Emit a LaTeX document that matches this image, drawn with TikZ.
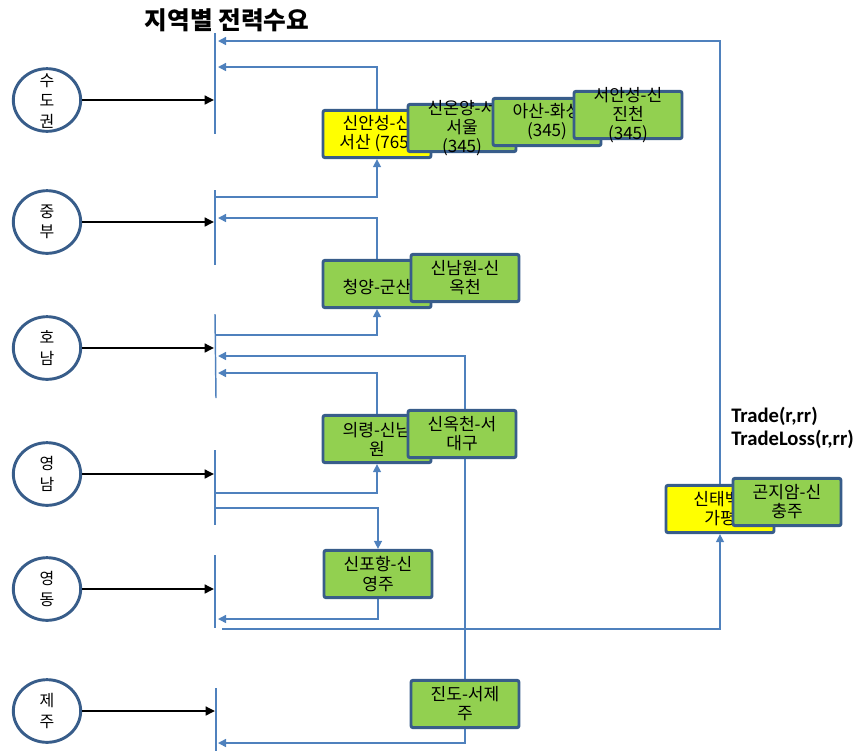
\documentclass[tikz,border=0pt]{standalone}
\usepackage{fontspec}
\usetikzlibrary{arrows.meta,shapes.geometric}
\newfontfamily\kr{Noto Sans CJK KR}
\newfontfamily\trd{Carlito}
\definecolor{lineblue}{HTML}{4F81BD}
\definecolor{boxblue}{HTML}{385D8A}
\definecolor{lgreen}{HTML}{92D050}
\definecolor{byellow}{HTML}{FFFF00}
\tikzset{
  region/.style={ellipse, draw=boxblue, line width=2.2pt, fill=white, minimum width=50.5pt, minimum height=47pt, inner sep=0pt},
  rtxt/.style={align=center, inner sep=0pt, font=\kr\fontsize{12}{15.5}\selectfont},
  gbox/.style={rectangle, draw=boxblue, line width=2.2pt, fill=lgreen, rounded corners=1.5pt, minimum width=81pt, minimum height=35.5pt, inner sep=0pt},
  ybox/.style={gbox, fill=byellow},
  btxt/.style={align=center, inner sep=0pt, font=\kr\fontsize{12.8}{14.3}\selectfont},
  bar/.style={draw=lineblue, line width=1.1pt},
  flow/.style={draw=lineblue, line width=1.1pt, -{Triangle[length=6pt,width=6pt]}},
  blk/.style={draw=black, line width=2pt, -{Triangle[length=7pt,width=6.5pt]}},
}
\begin{document}
\begin{tikzpicture}[x=0.75pt,y=-0.75pt]
\useasboundingbox (0,0) rectangle (857,751);

% title
\node[font=\kr\bfseries\fontsize{18.5}{20}\selectfont, inner sep=0pt] (title) at (227,20) {지역별 전력수요};

% regions
\node[region] (r1) at (47,100) {};
\node[rtxt] (r1t) at (47,101) {수\\도\\권};
\node[region] (r2) at (47,222) {};
\node[rtxt] (r2t) at (47,222) {중\\부};
\node[region] (r3) at (47,348) {};
\node[rtxt] (r3t) at (47,348) {호\\남};
\node[region] (r4) at (47,474) {};
\node[rtxt] (r4t) at (47,474) {영\\남};
\node[region] (r5) at (47,589) {};
\node[rtxt] (r5t) at (47,589) {영\\동};
\node[region] (r6) at (47,711) {};
\node[rtxt] (r6t) at (47,711) {제\\주};

% bars
\coordinate (b1top) at (215,33);  \coordinate (b1bot) at (215,134);
\coordinate (b2top) at (215,190); \coordinate (b2bot) at (215,265);
\coordinate (b3top) at (215,314); \coordinate (b3bot) at (216,398);
\coordinate (b4top) at (215,450); \coordinate (b4bot) at (215,525);
\coordinate (b5top) at (215,555); \coordinate (b5bot) at (215,628);
\coordinate (b6top) at (216,688); \coordinate (b6bot) at (216,751);
\draw[bar] (b1top) -- (b1bot);
\draw[bar] (b2top) -- (b2bot);
\draw[bar] (b3top) -- (b3bot);
\draw[bar] (b4top) -- (b4bot);
\draw[bar] (b5top) -- (b5bot);
\draw[bar] (b6top) -- (b6bot);

% black arrows
\coordinate (b1m) at (214,100);
\coordinate (b2m) at (214,222);
\coordinate (b3m) at (214,348);
\coordinate (b4m) at (214,474);
\coordinate (b5m) at (214,589);
\coordinate (b6m) at (215,711);
\draw[blk] (r1.east) -- (b1m);
\draw[blk] (r2.east) -- (b2m);
\draw[blk] (r3.east) -- (b3m);
\draw[blk] (r4.east) -- (b4m);
\draw[blk] (r5.east) -- (b5m);
\draw[blk] (r6.east) -- (b6m);

% connector end coordinates on the bars
\coordinate (b1a) at (218,41);
\coordinate (b1b) at (218,67);
\coordinate (b2a) at (215,197);
\coordinate (b2b) at (218,218);
\coordinate (b3a) at (215,335);
\coordinate (b3b) at (218,356);
\coordinate (b3c) at (218,373);
\coordinate (b4a) at (215,493);
\coordinate (b4b) at (215,508);
\coordinate (b5a) at (218,619);
\coordinate (b5c) at (222,629);
\coordinate (b6a) at (218,743);

% box placeholders (named, invisible) so the connectors can use them
\path
  (377,134) node[gbox, draw=none, fill=none] (sa) {}
  (462,128) node[gbox, draw=none, fill=none] (so) {}
  (547,122) node[gbox, draw=none, fill=none] (ah) {}
  (628,115) node[gbox, draw=none, fill=none] (sj) {}
  (377,284) node[gbox, draw=none, fill=none] (cg) {}
  (465,278) node[gbox, draw=none, fill=none] (nj) {}
  (377,439) node[gbox, draw=none, fill=none] (ur) {}
  (462,434) node[gbox, draw=none, fill=none] (os) {}
  (378,574) node[gbox, draw=none, fill=none] (pj) {}
  (465,704) node[gbox, draw=none, fill=none] (jj) {}
  (720,509) node[gbox, draw=none, fill=none] (tb) {}
  (787,502) node[gbox, draw=none, fill=none] (gc) {};

% blue flows
\draw[flow] (tb.north) |- (b1a);
\draw[flow] (sa.north) |- (b1b);
\draw[flow] (b2a) -| (sa.south);
\draw[flow] (cg.north) |- (b2b);
\draw[flow] (b3a) -| (cg.south);
\draw[flow] (jj.north) |- (b3b);
\draw[flow] (ur.north) |- (b3c);
\draw[flow] (b4a) -| (ur.south);
\draw[flow] (b4b) -| (pj.north);
\draw[flow] (pj.south) |- (b5a);
\draw[flow] (b5c) -| (tb.south);
\draw[flow] (jj.south) |- (b6a);

% visible boxes and texts, in stacking order
\node[ybox] (saB) at (sa) {};
\node[btxt] (saT) at (sa) {신안성-신\\서산 (765)};
\node[gbox] (soB) at (so) {};
\node[btxt] (soT) at (so) {신온양-서\\서울\\(345)};
\node[gbox] (ahB) at (ah) {};
\node[btxt] (ahT) at (ah) {아산-화성\\(345)};
\node[gbox] (sjB) at (sj) {};
\node[btxt] (sjT) at (sj) {서안성-신\\진천\\(345)};

\node[gbox] (cgB) at (cg) {};
\node[btxt] (cgT) at ([yshift=-2pt]cg.center) {청양-군산};
\node[gbox] (njB) at (nj) {};
\node[btxt] (njT) at (nj) {신남원-신\\옥천};

\node[gbox] (urB) at (ur) {};
\node[btxt] (urT) at (ur) {의령-신남\\원};
\node[gbox] (osB) at (os) {};
\node[btxt] (osT) at (os) {신옥천-서\\대구};

\node[gbox] (pjB) at (pj) {};
\node[btxt] (pjT) at (pj) {신포항-신\\영주};

\node[gbox] (jjB) at (jj) {};
\node[btxt] (jjT) at (jj) {진도-서제\\주};

\node[ybox] (tbB) at (tb) {};
\node[btxt] (tbT) at (tb) {신태백-\\가평};
\node[gbox] (gcB) at (gc) {};
\node[btxt] (gcT) at (gc) {곤지암-신\\충주};

% trade label
\node[anchor=west, align=left, inner sep=0pt, font=\trd\bfseries\fontsize{15.5}{17.5}\selectfont] (trade) at (731,428) {Trade(r,rr)\\TradeLoss(r,rr)};
\end{tikzpicture}
\end{document}
